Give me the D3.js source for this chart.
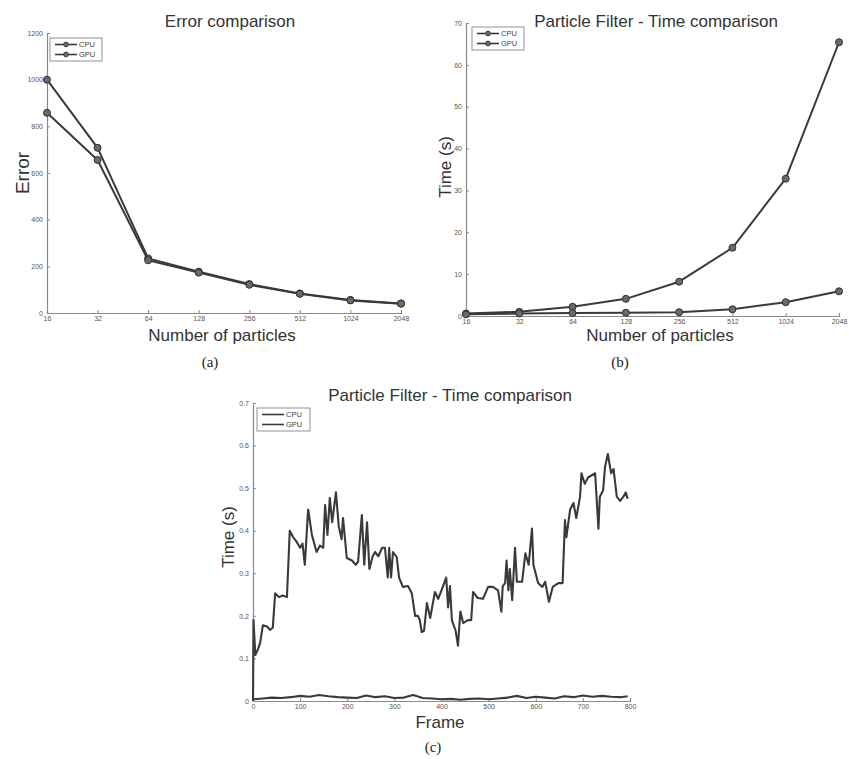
<!DOCTYPE html>
<html>
<head>
<meta charset="utf-8">
<script src="https://cdn.jsdelivr.net/npm/d3@7"></script>
<style>
  body { margin: 0; background: #fff; }
  svg { display: block; }
  .axis-label, .title { font-family: 'Liberation Sans', Arial, sans-serif; fill: #333; }
  .caption { font-family: 'Liberation Serif', 'Times New Roman', serif; font-size: 15px; fill: #222; }
</style>
</head>
<body>
<svg id="chart" width="849" height="759"></svg>
<script>
// (a) error vs particles
const particleCounts = ['16', '32', '64', '128', '256', '512', '1024', '2048'];
const errorCpu = [1000, 708, 234, 177, 124, 84, 56, 41];
const errorGpu = [858, 656, 226, 173, 121, 82, 54, 40];
const errorTicks = [0, 200, 400, 600, 800, 1000, 1200];

// (b) time vs particles
const timeCpu = [0.6, 1.0, 2.2, 4.1, 8.2, 16.3, 32.8, 65.4];
const timeGpu = [0.4, 0.6, 0.7, 0.8, 0.9, 1.6, 3.3, 5.9];
const timeTicks = [0, 10, 20, 30, 40, 50, 60, 70];

// (c) time per frame
const frameCpu = [0, 1, 5, 10, 15, 21, 30, 36, 42, 47, 55, 63, 72, 78, 85, 92, 100, 105, 110, 117,
  125, 135, 142, 149, 153, 158, 163, 168, 176, 182, 188, 191, 199, 210, 218, 223, 231, 236, 242, 247,
  254, 259, 266, 274, 280, 286, 289, 293, 297, 305, 310, 318, 329, 337, 344, 350, 354, 358, 363, 369,
  376, 386, 393, 400, 410, 414, 418, 422, 430, 435, 440, 446, 456, 463, 467, 477, 488, 499, 509, 520,
  527, 530, 535, 538, 542, 545, 550, 556, 560, 571, 578, 585, 592, 595, 605, 614, 620, 628, 636, 648,
  657, 662, 665, 673, 680, 686, 694, 697, 704, 711, 726, 733, 736, 743, 747, 753, 760, 765, 772, 779,
  786, 791, 795];
const timeFrameCpu = [0.0, 0.19, 0.108, 0.12, 0.136, 0.178, 0.175, 0.167, 0.172, 0.253, 0.244, 0.248, 0.244, 0.40, 0.385, 0.375, 0.36, 0.37, 0.32, 0.45,
  0.39, 0.35, 0.365, 0.36, 0.46, 0.39, 0.477, 0.42, 0.49, 0.41, 0.38, 0.43, 0.336, 0.33, 0.32, 0.327, 0.437, 0.32, 0.42, 0.31,
  0.34, 0.35, 0.34, 0.36, 0.36, 0.29, 0.36, 0.29, 0.35, 0.338, 0.29, 0.268, 0.27, 0.253, 0.20, 0.20, 0.19, 0.162, 0.165, 0.23,
  0.195, 0.256, 0.24, 0.26, 0.29, 0.22, 0.27, 0.19, 0.165, 0.13, 0.21, 0.183, 0.19, 0.19, 0.256, 0.242, 0.24, 0.268, 0.268, 0.26,
  0.21, 0.27, 0.277, 0.33, 0.26, 0.31, 0.237, 0.36, 0.28, 0.28, 0.347, 0.32, 0.405, 0.32, 0.277, 0.268, 0.28, 0.233, 0.268, 0.277,
  0.277, 0.425, 0.385, 0.45, 0.465, 0.43, 0.48, 0.535, 0.51, 0.525, 0.535, 0.405, 0.48, 0.495, 0.55, 0.58, 0.535, 0.545, 0.48, 0.47,
  0.48, 0.49, 0.475];
const frameGpu = [0, 20, 40, 60, 80, 100, 120, 140, 160, 180, 200, 220, 240, 260, 280, 300, 320, 340, 360, 380,
  400, 420, 440, 460, 480, 500, 520, 540, 560, 580, 600, 620, 640, 660, 680, 700, 720, 740, 760, 780, 795];
const timeFrameGpu = [0.004, 0.006, 0.008, 0.007, 0.009, 0.012, 0.010, 0.014, 0.011, 0.009, 0.008, 0.007, 0.013, 0.009, 0.011, 0.007, 0.008, 0.014, 0.007, 0.006,
  0.004, 0.005, 0.003, 0.005, 0.006, 0.004, 0.006, 0.008, 0.012, 0.007, 0.010, 0.008, 0.006, 0.011, 0.009, 0.013, 0.010, 0.012, 0.010, 0.009, 0.011];
const frameTicks = [0, 100, 200, 300, 400, 500, 600, 700, 800];
const frameTimeTicks = [0, 0.1, 0.2, 0.3, 0.4, 0.5, 0.6, 0.7];

const seriesNames = ['CPU', 'GPU'];

const svg = d3.select('#chart');
const lineColor = '#3a3a3a';
const axisColor = '#8a8a8a';

function drawPanel(cfg) {
  const g = svg.append('g');
  const { x, y } = cfg;

  const xAxis = d3.axisBottom(x).tickSize(-3).tickPadding(3);
  if (cfg.xTicks) xAxis.tickValues(cfg.xTicks);
  const yAxis = d3.axisLeft(y).tickValues(cfg.yTicks).tickSize(-3).tickPadding(4)
    .tickFormat(cfg.yFormat || d3.format('d'));

  const xg = g.append('g').attr('transform', `translate(0,${y.range()[0]})`).call(xAxis);
  const yg = g.append('g').attr('transform', `translate(${x.range()[0]},0)`).call(yAxis);
  [xg, yg].forEach((ax) => {
    ax.select('.domain').attr('stroke', axisColor).attr('stroke-width', 1.2);
    ax.selectAll('.tick line').attr('stroke', axisColor);
    ax.selectAll('.tick text')
      .attr('fill', '#555')
      .attr('font-family', 'Liberation Sans, Arial, sans-serif')
      .attr('font-size', 7);
  });

  const line = d3.line().x((d) => x(d[0])).y((d) => y(d[1]));
  cfg.series.forEach((s) => {
    g.append('path').datum(s)
      .attr('fill', 'none').attr('stroke', lineColor)
      .attr('stroke-width', cfg.markers ? 2 : 2.1)
      .attr('stroke-linejoin', 'round')
      .attr('d', line);
    if (cfg.markers) {
      g.selectAll(null).data(s).join('circle')
        .attr('cx', (d) => x(d[0])).attr('cy', (d) => y(d[1]))
        .attr('r', 3.5).attr('fill', '#6a6a6a').attr('stroke', '#2e2e2e').attr('stroke-width', 1);
    }
  });

  // legend box
  const lg = g.append('g').attr('transform', `translate(${cfg.legend[0]},${cfg.legend[1]})`);
  lg.append('rect').attr('width', cfg.legend[2]).attr('height', 23)
    .attr('fill', '#fff').attr('stroke', '#777').attr('stroke-width', 0.8);
  seriesNames.forEach((name, i) => {
    const ly = 6.5 + i * 10;
    lg.append('line').attr('x1', 5).attr('x2', 27).attr('y1', ly).attr('y2', ly)
      .attr('stroke', lineColor).attr('stroke-width', 1.6);
    if (cfg.markers) {
      lg.append('circle').attr('cx', 16).attr('cy', ly).attr('r', 2.4)
        .attr('fill', '#6a6a6a').attr('stroke', '#2e2e2e').attr('stroke-width', 0.8);
    }
    lg.append('text').attr('x', 29).attr('y', ly + 2.5)
      .attr('font-family', 'Liberation Sans, Arial, sans-serif').attr('font-size', 7.5)
      .attr('fill', '#444').text(name);
  });

  g.append('text').attr('class', 'title').attr('font-size', 17)
    .attr('x', cfg.titlePos[0]).attr('y', cfg.titlePos[1]).attr('text-anchor', 'middle').text(cfg.title);
  g.append('text').attr('class', 'axis-label').attr('font-size', 17)
    .attr('x', cfg.xLabelPos[0]).attr('y', cfg.xLabelPos[1]).attr('text-anchor', 'middle').text(cfg.xLabel);
  g.append('text').attr('class', 'axis-label').attr('font-size', cfg.yLabelSize || 17)
    .attr('transform', `translate(${cfg.yLabelPos[0]},${cfg.yLabelPos[1]}) rotate(-90)`)
    .attr('text-anchor', 'middle').text(cfg.yLabel);
  g.append('text').attr('class', 'caption')
    .attr('x', cfg.caption[0]).attr('y', cfg.caption[1]).attr('text-anchor', 'middle').text(cfg.caption[2]);
}

const pairs = (xs, ys) => xs.map((v, i) => [v, ys[i]]);

// panel (a)
drawPanel({
  x: d3.scalePoint().domain(particleCounts).range([47, 401]),
  y: d3.scaleLinear().domain([0, 1200]).range([313, 33]),
  yTicks: errorTicks,
  series: [pairs(particleCounts, errorCpu), pairs(particleCounts, errorGpu)],
  markers: true,
  legend: [50, 38, 52],
  title: 'Error comparison', titlePos: [230, 27],
  xLabel: 'Number of particles', xLabelPos: [222, 341],
  yLabel: 'Error', yLabelPos: [29, 173], yLabelSize: 19,
  caption: [210, 367, '(a)'],
});

// panel (b)
drawPanel({
  x: d3.scalePoint().domain(particleCounts).range([466, 839]),
  y: d3.scaleLinear().domain([0, 70]).range([316, 23]),
  yTicks: timeTicks,
  series: [pairs(particleCounts, timeCpu), pairs(particleCounts, timeGpu)],
  markers: true,
  legend: [472, 27, 52],
  title: 'Particle Filter - Time comparison', titlePos: [656, 27],
  xLabel: 'Number of particles', xLabelPos: [660, 341],
  yLabel: 'Time (s)', yLabelPos: [451, 167],
  caption: [620, 367, '(b)'],
});

// panel (c)
drawPanel({
  x: d3.scaleLinear().domain([0, 800]).range([253, 630]),
  y: d3.scaleLinear().domain([0, 0.7]).range([701, 403]),
  xTicks: frameTicks,
  yTicks: frameTimeTicks,
  yFormat: (d) => (d === 0 ? '0' : d3.format('.1f')(d)),
  series: [pairs(frameCpu, timeFrameCpu), pairs(frameGpu, timeFrameGpu)],
  markers: false,
  legend: [257, 408, 53],
  title: 'Particle Filter - Time comparison', titlePos: [450, 401],
  xLabel: 'Frame', xLabelPos: [440, 728],
  yLabel: 'Time (s)', yLabelPos: [234, 537],
  caption: [433, 752, '(c)'],
});
</script>
</body>
</html>
